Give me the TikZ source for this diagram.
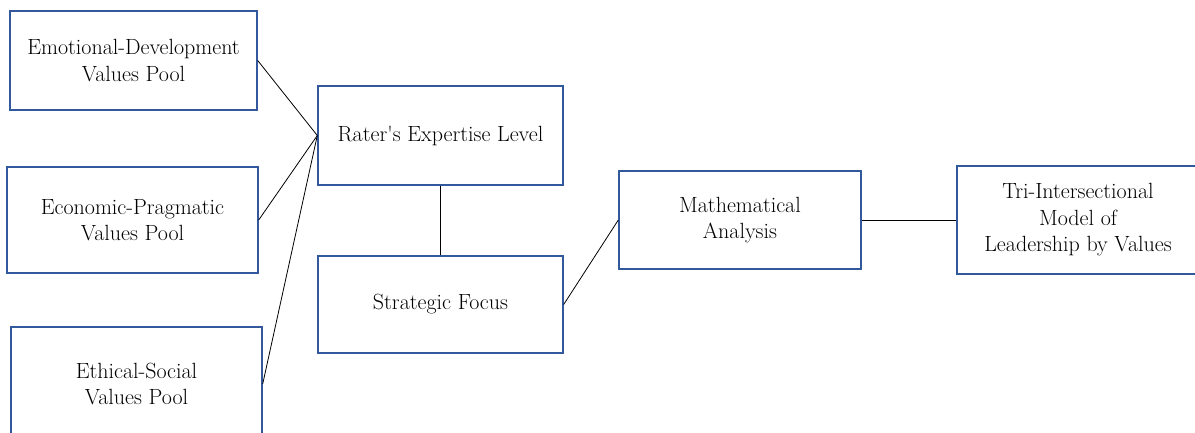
\documentclass[tikz,border=0pt]{standalone}
\usepackage{tikz}
\definecolor{boxblue}{RGB}{50,88,158}

\begin{document}
\begin{tikzpicture}[x=1pt, y=-1pt, color=black,
      every node/.append style={font=\fontsize{22}{26.5}\selectfont, align=center, inner sep=0pt},
      valuebox/.style={draw=boxblue, line width=1.4pt, minimum width=#1},
      link/.style={line width=0.8pt}]
    \clip (0,0) rectangle (1195,432);
    \node (emotional) [valuebox=247pt, minimum height=99pt] at (133.5,60.5) {Emotional-Development\\Values Pool};
    \node (economic) [valuebox=251pt, minimum height=106pt] at (132.5,220) {Economic-Pragmatic\\Values Pool};
    \node (ethical) [valuebox=251pt, minimum height=114pt] at (136.5,384) {Ethical-Social\\Values Pool};
    \node (rater) [valuebox=245pt, minimum height=99pt] at (440.5,135.5) {Rater\textquotesingle s Expertise Level};
    \node (strategic) [valuebox=245pt, minimum height=97pt] at (440.5,304.5) {Strategic Focus};
    \node (math) [valuebox=242pt, minimum height=98pt] at (740,220) {Mathematical\\Analysis};
    \node (model) [valuebox=242pt, minimum height=108pt] at (1078,220) {Tri-Intersectional\\Model of\\Leadership by Values};
    % links
    \draw [link] (emotional.east) -- (rater.west);
    \draw [link] (economic.east) -- (rater.west);
    \draw [link] (ethical.east) -- (rater.west);
    \draw [link] (rater.south) -- (strategic.north);
    \draw [link] (strategic.east) -- (math.west);
    \draw [link] (math.east) -- (model.west);
  \end{tikzpicture}
\end{document}
